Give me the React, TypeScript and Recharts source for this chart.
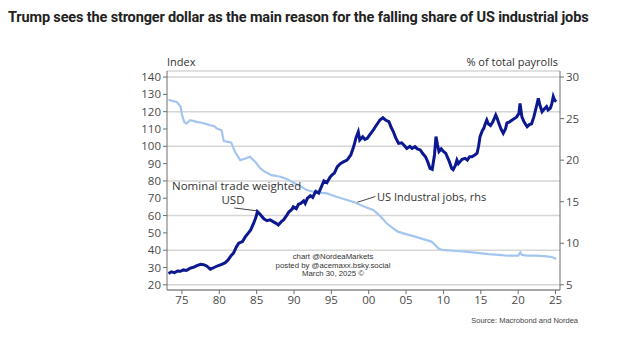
import {
  LineChart,
  Line,
  XAxis,
  YAxis,
  CartesianGrid,
  ReferenceLine,
} from "recharts";

// nominal trade weighted USD, index (lhs)
const usdYears = [
  1973.2, 1973.6, 1974.0, 1974.4, 1974.8, 1975.2, 1975.6, 1976.1, 1976.6, 1977.0,
  1977.5, 1977.9, 1978.3, 1978.8, 1979.3, 1979.8, 1980.4, 1980.8, 1981.2, 1981.6,
  1981.9, 1982.3, 1982.6, 1983.1, 1983.5, 1983.9, 1984.2, 1984.6, 1984.9, 1985.1,
  1985.4, 1985.7, 1986.0, 1986.4, 1986.8, 1987.2, 1987.6, 1987.9, 1988.3, 1988.6,
  1989.0, 1989.3, 1989.7, 1989.9, 1990.3, 1990.6, 1990.9, 1991.3, 1991.5, 1991.8,
  1992.2, 1992.5, 1992.9, 1993.3, 1993.6, 1994.0, 1994.4, 1994.8, 1995.1, 1995.4,
  1995.8, 1996.2, 1996.6, 1997.1, 1997.6, 1998.0, 1998.3, 1998.6, 1998.8, 1999.2,
  1999.5, 1999.8, 2000.2, 2000.6, 2001.0, 2001.5, 2001.9, 2002.3, 2002.7, 2003.0,
  2003.3, 2003.6, 2004.0, 2004.4, 2004.7, 2005.1, 2005.5, 2005.8, 2006.2, 2006.5,
  2006.9, 2007.2, 2007.6, 2007.9, 2008.2, 2008.5, 2008.8, 2009.0, 2009.2, 2009.4,
  2009.7, 2010.0, 2010.3, 2010.5, 2010.8, 2011.1, 2011.3, 2011.6, 2011.8, 2012.0,
  2012.2, 2012.5, 2012.9, 2013.2, 2013.5, 2013.8, 2014.2, 2014.5, 2014.7, 2014.9,
  2015.2, 2015.4, 2015.6, 2015.8, 2016.0, 2016.3, 2016.6, 2017.0, 2017.2, 2017.4,
  2017.7, 2018.0, 2018.3, 2018.5, 2018.8, 2019.2, 2019.5, 2019.8, 2020.1, 2020.25,
  2020.5, 2020.8, 2021.2, 2021.5, 2021.8, 2022.1, 2022.5, 2022.7, 2022.9, 2023.2,
  2023.5, 2023.8, 2024.0, 2024.3, 2024.5, 2024.7, 2024.9, 2025.1,
];
const usdValues = [
  26.5, 27.5, 27.0, 28.0, 27.8, 28.6, 28.3, 29.6, 30.2, 31.1,
  31.8, 31.6, 30.9, 29.0, 30.0, 31.0, 32.0, 32.8, 34.5, 37.0,
  38.3, 42.0, 44.0, 45.0, 47.8, 50.0, 51.7, 55.6, 59.0, 62.3,
  61.0, 59.5, 58.0, 57.0, 57.5, 56.5, 55.5, 54.6, 56.5, 57.5,
  60.0, 62.0, 63.5, 65.0, 64.0, 66.5, 67.0, 68.5, 67.0, 70.0,
  71.5, 70.5, 74.0, 73.0, 76.0, 80.0, 79.0, 82.0, 83.5, 84.5,
  88.3, 90.0, 91.0, 92.0, 95.0, 100.0, 105.0, 108.4, 103.6, 105.5,
  104.0, 104.6, 107.0, 109.4, 112.0, 115.2, 116.5, 115.0, 114.2, 111.0,
  108.4, 105.0, 101.7, 102.0, 100.8, 98.8, 100.0, 98.8, 99.8, 98.5,
  97.9, 96.0, 94.0, 91.0, 87.3, 86.7, 95.0, 105.6, 101.0, 97.0,
  98.5, 97.0, 96.0, 94.0, 91.0, 87.3, 86.5, 89.0, 92.0, 90.0,
  91.0, 92.5, 93.0, 92.0, 94.0, 94.0, 95.0, 96.0, 100.0, 105.6,
  109.0, 110.4, 113.0, 115.2, 113.0, 112.0, 114.0, 118.0, 116.0, 113.5,
  110.0, 107.5, 110.0, 113.5, 114.0, 115.2, 116.0, 117.0, 119.0, 124.8,
  117.0, 114.0, 111.3, 112.5, 113.0, 117.0, 124.0, 127.7, 124.0, 120.0,
  121.5, 122.9, 121.0, 122.0, 124.5, 128.7, 126.5, 125.8,
];

// US industrial jobs, % of total payrolls (rhs)
const jobsYears = [
  1973.2, 1973.8, 1974.3, 1974.8, 1975.0, 1975.3, 1975.6, 1976.1, 1976.6, 1977.0,
  1977.6, 1978.1, 1978.8, 1979.3, 1979.7, 1980.3, 1980.6, 1981.2, 1981.6, 1982.1,
  1982.8, 1983.5, 1984.1, 1984.8, 1985.5, 1986.1, 1987.0, 1988.2, 1989.1, 1989.9,
  1990.8, 1991.7, 1992.6, 1993.5, 1994.4, 1995.7, 1997.1, 1998.2, 1998.9, 1999.7,
  2000.6, 2001.5, 2002.4, 2003.1, 2003.9, 2005.0, 2006.2, 2007.3, 2008.4, 2008.9,
  2009.3, 2009.8, 2011.3, 2012.9, 2014.5, 2016.0, 2017.4, 2018.7, 2020.0, 2020.3,
  2020.5, 2021.3, 2022.3, 2023.5, 2024.5, 2025.1,
];
const jobsValues = [
  27.3, 27.1, 27.0, 26.5, 25.5, 24.6, 24.4, 24.8, 24.7, 24.6,
  24.5, 24.4, 24.2, 24.1, 23.8, 23.6, 22.3, 22.2, 22.1, 21.0,
  20.0, 20.2, 20.4, 19.8, 19.0, 18.6, 18.2, 18.0, 17.7, 17.3,
  16.9, 16.4, 16.2, 16.1, 16.0, 15.6, 15.2, 14.9, 14.6, 14.3,
  14.0, 13.3, 12.4, 11.9, 11.4, 11.1, 10.8, 10.5, 10.2, 9.8,
  9.4, 9.2, 9.1, 9.0, 8.85, 8.7, 8.6, 8.5, 8.5, 8.9,
  8.6, 8.5, 8.5, 8.45, 8.35, 8.1,
];

const yearTicks = [1975, 1980, 1985, 1990, 1995, 2000, 2005, 2010, 2015, 2020, 2025];
const indexTicks = [20, 30, 40, 50, 60, 70, 80, 90, 100, 110, 120, 130, 140];
const payrollTicks = [5, 10, 15, 20, 25, 30];

const usdData = usdYears.map((year, i) => ({ year, usd: usdValues[i] }));
const jobsData = jobsYears.map((year, i) => ({ year, jobs: jobsValues[i] }));

const tickStyle = { fontFamily: "Open Sans", fontSize: 11.5, fill: "#4a4a4a" };
const axisColor = "#6e6e6e";

export default function App() {
  return (
    <div
      style={{
        position: "absolute",
        left: 0,
        top: 0,
        width: 624,
        height: 342,
        background: "#fff",
        fontFamily: "Open Sans",
      }}
    >
      <div
        style={{
          position: "absolute",
          left: 8,
          top: 9,
          fontFamily: "Roboto",
          fontWeight: 700,
          fontSize: 14.5,
          letterSpacing: -0.15,
          color: "#222",
          whiteSpace: "nowrap",
        }}
      >
        Trump sees the stronger dollar as the main reason for the falling share of US industrial jobs
      </div>
      <LineChart
        width={624}
        height={342}
        margin={{ top: 71, right: 0, left: 0, bottom: 22 }}
        style={{ position: "absolute", left: 0, top: 0 }}
      >
        <CartesianGrid
          yAxisId="left"
          vertical={false}
          stroke="#d6d6d6"
          strokeWidth={1.5}
        />
        <XAxis
          dataKey="year"
          type="number"
          domain={[1973, 2025.6]}
          ticks={yearTicks}
          allowDataOverflow
          tickFormatter={(v) => String(v % 100).padStart(2, "0")}
          tick={tickStyle}
          stroke={axisColor}
          tickSize={4}
          height={30}
        />
        <YAxis
          yAxisId="left"
          orientation="left"
          domain={[17, 143.5]}
          ticks={indexTicks}
          allowDataOverflow
          tick={tickStyle}
          stroke={axisColor}
          tickSize={4}
          width={167}
        />
        <YAxis
          yAxisId="right"
          orientation="right"
          domain={[4.375, 30.729]}
          ticks={payrollTicks}
          allowDataOverflow
          tick={tickStyle}
          stroke={axisColor}
          tickSize={4}
          width={64}
        />
        <ReferenceLine
          yAxisId="left"
          segment={[
            { x: 1982.0, y: 64.4 },
            { x: 1985.1, y: 62.7 },
          ]}
          stroke="#444"
          strokeWidth={1}
        />
        <ReferenceLine
          yAxisId="left"
          segment={[
            { x: 1998.2, y: 67.3 },
            { x: 2000.9, y: 71.0 },
          ]}
          stroke="#444"
          strokeWidth={1}
        />
        <Line
          yAxisId="right"
          data={jobsData}
          dataKey="jobs"
          type="linear"
          stroke="#a4c6ee"
          strokeWidth={2.2}
          dot={false}
          isAnimationActive={false}
        />
        <Line
          yAxisId="left"
          data={usdData}
          dataKey="usd"
          type="linear"
          stroke="#0c1890"
          strokeWidth={3}
          dot={false}
          isAnimationActive={false}
        />
      </LineChart>
      <svg
        width={624}
        height={342}
        style={{ position: "absolute", left: 0, top: 0, pointerEvents: "none" }}
      >
        <g fontFamily="Open Sans" fill="#333">
          <text x={167} y={66} fontSize={11}>Index</text>
          <text x={558} y={66} fontSize={11} textAnchor="end">% of total payrolls</text>
          <text x={172} y={190} fontSize={11.5}>Nominal trade weighted</text>
          <text x={233} y={204} fontSize={11.5} textAnchor="middle">USD</text>
          <text x={377} y={201} fontSize={11}>US Industral jobs, rhs</text>
        </g>
        <g fontFamily="Liberation Sans" fill="#333" fontSize={7.8} textAnchor="middle">
          <text x={333} y={259}>chart @NordeaMarkets</text>
          <text x={333} y={267.5}>posted by @acemaxx.bsky.social</text>
          <text x={333} y={276}>March 30, 2025 ©</text>
        </g>
        <text
          x={578}
          y={323}
          fontFamily="Liberation Sans"
          fontSize={7.5}
          fill="#444"
          textAnchor="end"
        >
          Source: Macrobond and Nordea
        </text>
      </svg>
    </div>
  );
}
